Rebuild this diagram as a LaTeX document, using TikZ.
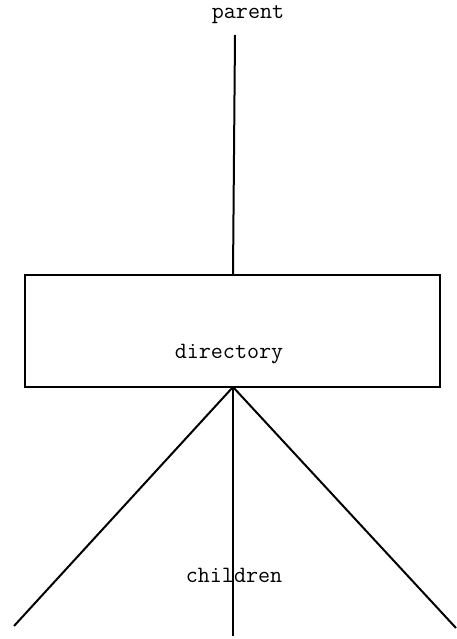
\documentclass[tikz,border=0pt]{standalone}
\usepackage{fontspec}
\usetikzlibrary{positioning}
\tikzset{
  label text/.style={font=\ttfamily\fontsize{23.4}{28}\selectfont, inner sep=0pt, anchor=base},
  dirbox/.style={draw, line width=2pt, minimum width=415pt, minimum height=112pt, inner sep=0pt},
  link/.style={line width=2pt}
}
\begin{document}
\begin{tikzpicture}[x=1pt, y=-1pt]
    \useasboundingbox (0,0) rectangle (457,639);
    % Directory box
    \node[dirbox] (dir) at (232.5,331) {};
    \node[label text] (dirname) at (229,358) {directory};
    % Parent
    \node[label text] (parent) at (248,19) {parent};
    \coordinate (ptop) at (235,35);
    \draw[link] (ptop) -- (dir.north -| 233,0);
    % Children
    \node[label text] (children) at (234,582) {children};
    \coordinate (cleft) at (14,626);
    \coordinate (cmid) at (233,636);
    \coordinate (cright) at (456,628);
    \coordinate (dbot) at (233,387);
    \draw[link] (dbot) -- (cleft);
    \draw[link] (dbot) -- (cmid);
    \draw[link] (dbot) -- (cright);
\end{tikzpicture}
\end{document}
